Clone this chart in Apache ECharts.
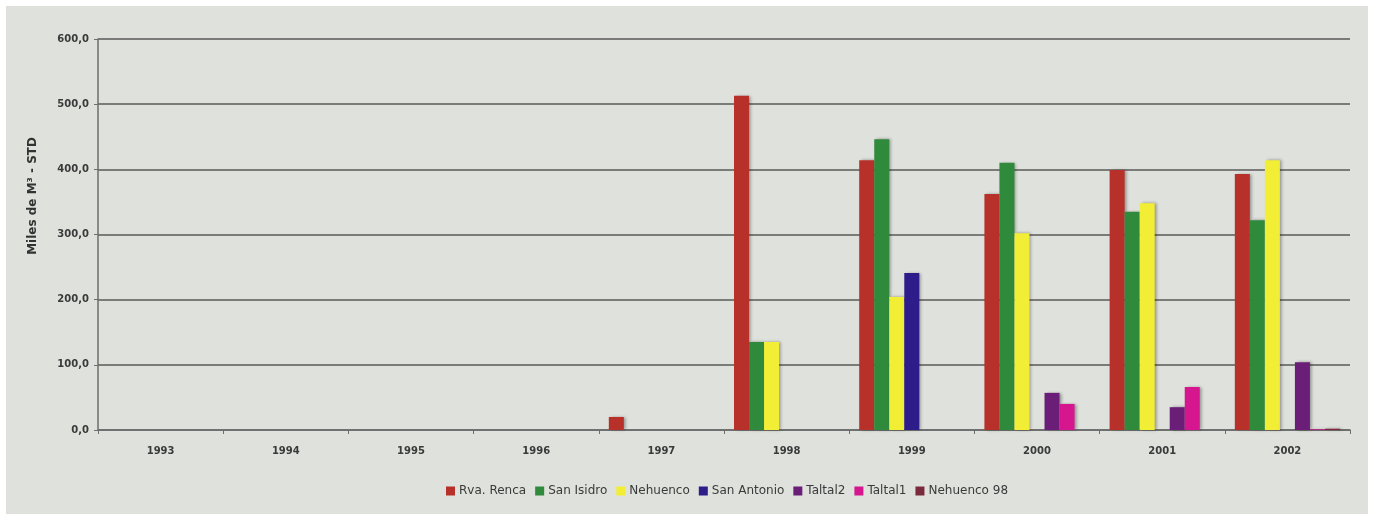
<!DOCTYPE html>
<html><head><meta charset="utf-8">
<script src="https://cdn.jsdelivr.net/npm/echarts@6/dist/echarts.min.js"></script>
<style>
html,body{margin:0;padding:0;background:#ffffff;width:1374px;height:514px;overflow:hidden;}
#c{position:absolute;left:6px;top:6px;width:1362px;height:508px;background:#dfe1dc;}
</style></head>
<body><div id="c"></div>
<script>
const categories = ['1993','1994','1995','1996','1997','1998','1999','2000','2001','2002'];
const seriesNames = ['Rva. Renca','San Isidro','Nehuenco','San Antonio','Taltal2','Taltal1','Nehuenco 98'];
const rvaRenca   = [null,null,null,null,20,513,414,362,399,393];
const sanIsidro  = [null,null,null,null,null,135,446,410,335,322];
const nehuenco   = [null,null,null,null,null,135,204,302,348,414];
const sanAntonio = [null,null,null,null,null,null,241,null,null,null];
const taltal2    = [null,null,null,null,null,null,null,57,35,104];
const taltal1    = [null,null,null,null,null,null,null,40,66,1];
const nehuenco98 = [null,null,null,null,null,null,null,null,null,2];
const yTicks = [0,100,200,300,400,500,600];
const colors = ['#b8302a','#2f8a3c','#f2ee35','#2d1c8a','#6a1e78','#d5168e','#7a2a3c'];

const allData = [rvaRenca,sanIsidro,nehuenco,sanAntonio,taltal2,taltal1,nehuenco98];
const font = '"DejaVu Sans", sans-serif';
const chart = echarts.init(document.getElementById('c'));
chart.setOption({
  animation:false,
  color: colors,
  grid:{left:92,top:33,right:18,bottom:84},
  legend:{
    left:435, top:474, itemWidth:9, itemHeight:9, itemGap:9,
    icon:'rect',
    textStyle:{fontFamily:font,fontSize:12,fontWeight:'normal',color:'#3a3a3a',padding:[0,0,0,-1]},
    data: seriesNames
  },
  xAxis:{
    type:'category', data:categories,
    axisLine:{lineStyle:{color:'#6e6e6e',width:1.5}},
    axisTick:{show:true,length:4,lineStyle:{color:'#6e6e6e'}},
    axisLabel:{fontFamily:font,fontSize:10,fontWeight:'bold',color:'#3a3a3a',margin:16}
  },
  yAxis:{
    type:'value', min:yTicks[0], max:yTicks[yTicks.length-1], interval:100,
    axisLine:{show:true,lineStyle:{color:'#6e6e6e',width:1.5}},
    axisTick:{show:true,length:4,lineStyle:{color:'#6e6e6e'}},
    axisLabel:{fontFamily:font,fontSize:10,fontWeight:'bold',color:'#3a3a3a',margin:9,
      formatter:v=>v.toFixed(1).replace('.',',')},
    splitLine:{lineStyle:{color:'#5a5a5a',width:1.5}}
  },
  graphic:[{
    type:'text', left:21, top:131, rotation:Math.PI/2,
    style:{text:'Miles de M³ - STD', fontFamily:font, fontSize:12, fontWeight:'bold', fill:'#333'}
  }],
  series: seriesNames.map((n,i)=>({
    name:n, type:'bar', data:allData[i],
    barGap:'0%', barCategoryGap:'16%',
    itemStyle:{color:colors[i],shadowColor:'rgba(0,0,0,0.35)',shadowBlur:3,shadowOffsetX:2,shadowOffsetY:0}
  }))
});
</script>
</body></html>
